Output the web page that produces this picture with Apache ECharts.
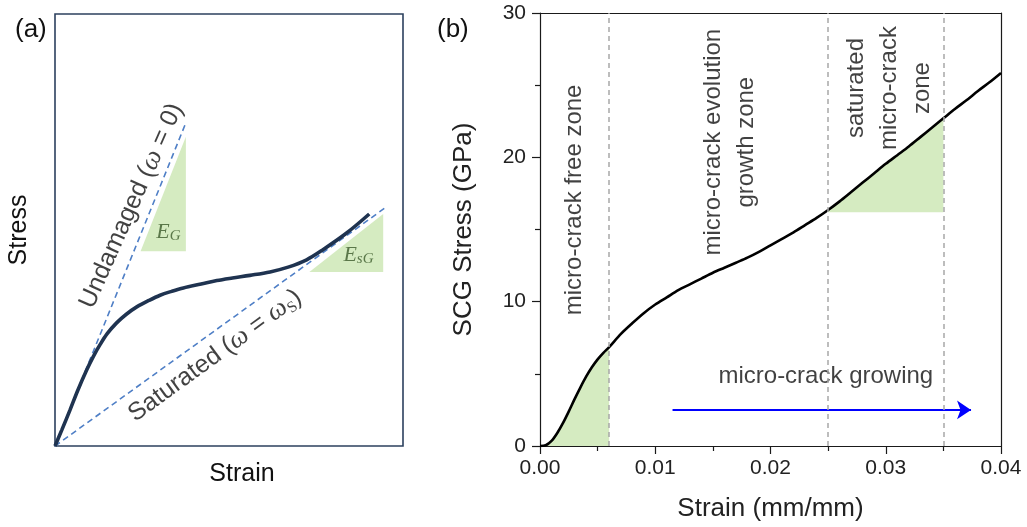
<!DOCTYPE html>
<html>
<head>
<meta charset="utf-8">
<script src="https://cdn.jsdelivr.net/npm/echarts@6/dist/echarts.min.js"></script>
<style>
  html, body { margin: 0; padding: 0; background: #ffffff; }
  #chart { width: 1027px; height: 527px; }
</style>
</head>
<body>
<div id="chart"></div>
<script>
// ---------- Panel (a): schematic response on normalised axes ----------
const schemStrain = [0, 0.02, 0.043, 0.065, 0.091, 0.11, 0.129, 0.15, 0.177, 0.205, 0.235, 0.27,
                     0.302, 0.335, 0.369, 0.42, 0.465, 0.51, 0.56, 0.618, 0.67, 0.723, 0.771, 0.838, 0.903];
const schemStress = [0, 0.038, 0.083, 0.128, 0.176, 0.207, 0.234, 0.260, 0.285, 0.305, 0.322, 0.337,
                     0.349, 0.358, 0.366, 0.375, 0.383, 0.389, 0.395, 0.403, 0.414, 0.431, 0.455, 0.493, 0.537];
const undamagedLine = [[0, 0], [0.376, 0.748]];
const saturatedLine = [[0, 0], [0.955, 0.555]];
// slope triangles: hypotenuse end points, filled down to a base level
const triEG = [[0.246, 0.451], [0.376, 0.716]];
const triEGBase = 0.451;
const triEsG = [[0.731, 0.403], [0.943, 0.537]];
const triEsGBase = 0.403;
const schemNotePos = { EG: [0.326, 0.496], EsG: [0.872, 0.442], undamaged: [0.220, 0.556], saturated: [0.460, 0.209] };

// ---------- Panel (b): SCG stress-strain curve ----------
const strain = [0, 0.0005, 0.001, 0.0015, 0.002, 0.0025, 0.003, 0.0035, 0.004, 0.0045, 0.005, 0.0055, 0.006,
                0.007, 0.008, 0.009, 0.010, 0.011, 0.012, 0.013, 0.014, 0.015, 0.016, 0.017, 0.018, 0.019,
                0.020, 0.021, 0.022, 0.023, 0.024, 0.025, 0.026, 0.027, 0.028, 0.029, 0.030, 0.031, 0.032,
                0.033, 0.034, 0.035, 0.036, 0.037, 0.038, 0.039, 0.040];
const stress = [0, 0.05, 0.35, 0.9, 1.6, 2.4, 3.25, 4.05, 4.8, 5.45, 6.0, 6.45, 6.85,
                7.75, 8.5, 9.2, 9.8, 10.3, 10.8, 11.2, 11.6, 12.0, 12.35, 12.7, 13.05, 13.45,
                13.9, 14.35, 14.8, 15.3, 15.8, 16.35, 16.95, 17.6, 18.25, 18.9, 19.55, 20.15, 20.75,
                21.4, 22.05, 22.7, 23.35, 23.95, 24.6, 25.2, 25.85];
const xTicks = [0, 0.01, 0.02, 0.03, 0.04];
const yTicks = [0, 10, 20, 30];
const zoneBounds = [0.006, 0.025, 0.035];
const saturatedBase = 16.2;
const zoneNames = ['micro-crack free zone', 'micro-crack evolution\ngrowth zone', 'saturated\nmicro-crack\nzone'];
const zoneNamePos = [[0.0030, 17.05], [0.0165, 21.05], [0.0303, 24.8]];
const growingText = 'micro-crack growing';
const growingTextPos = [0.0248, 4.83];
const arrowPath = [[0.0115, 2.5], [0.0374, 2.5]];

const SANS = '"Liberation Sans", Arial, sans-serif';
const SERIF = '"Liberation Serif", "DejaVu Serif", serif';
const GREEN = '#d5ebc1';
const AXIS_COLOR = '#1a1a1a';

const pairs = (xs, ys) => xs.map((x, i) => [x, ys[i]]);
const curveB = pairs(strain, stress);
const freeZoneFill = curveB.filter(p => p[0] <= zoneBounds[0] + 1e-9);
const satZoneFill = curveB.filter(p => p[0] >= zoneBounds[1] - 1e-9 && p[0] <= zoneBounds[2] + 1e-9);

const mathRich = {
  t: { fontFamily: SANS, fontSize: 25, color: '#111', lineHeight: 29 },
  w: { fontFamily: SERIF, fontStyle: 'italic', fontSize: 27, color: '#111', lineHeight: 29 },
  s: { fontFamily: SERIF, fontSize: 16, color: '#111', lineHeight: 14, verticalAlign: 'bottom' },
  e: { fontFamily: SERIF, fontStyle: 'italic', fontSize: 22, color: '#3b5a2a', lineHeight: 24 },
  es: { fontFamily: SERIF, fontStyle: 'italic', fontSize: 15, color: '#3b5a2a', lineHeight: 12, verticalAlign: 'bottom' }
};

const hiddenAxis = {
  type: 'value', min: 0, max: 1,
  axisLine: { show: false }, axisTick: { show: false }, axisLabel: { show: false }, splitLine: { show: false }
};
const frameAxis = {
  axisLine: { show: true, onZero: false, lineStyle: { color: AXIS_COLOR, width: 1.2 } },
  axisTick: { show: false }, axisLabel: { show: false }, splitLine: { show: false }
};

const chart = echarts.init(document.getElementById('chart'));
chart.setOption({
  animation: false,
  backgroundColor: '#ffffff',
  textStyle: { fontFamily: SANS },
  title: [
    { text: '(a)', left: 10, top: 12, textStyle: { fontFamily: SANS, fontSize: 26, fontWeight: 'normal', color: '#111' } },
    { text: '(b)', left: 432, top: 12, textStyle: { fontFamily: SANS, fontSize: 26, fontWeight: 'normal', color: '#111' } }
  ],
  grid: [
    { left: 55, top: 14, width: 348, height: 432, show: true, borderColor: '#2c405e', borderWidth: 1.6, containLabel: false },
    { left: 540, top: 13, width: 461, height: 433, show: false, containLabel: false }
  ],
  xAxis: [
    Object.assign({}, hiddenAxis, {
      gridIndex: 0, name: 'Strain', nameLocation: 'middle', nameGap: 16,
      nameTextStyle: { fontFamily: SANS, fontSize: 25, color: '#111', padding: [0, 0, 0, 26] }
    }),
    {
      type: 'value', gridIndex: 1, min: xTicks[0], max: xTicks[xTicks.length - 1], interval: xTicks[1] - xTicks[0],
      name: 'Strain (mm/mm)', nameLocation: 'middle', nameGap: 50,
      nameTextStyle: { fontFamily: SANS, fontSize: 26, color: '#222' },
      axisLine: { show: true, onZero: false, lineStyle: { color: AXIS_COLOR, width: 1.2 } },
      axisTick: { show: true, inside: false, length: 8, lineStyle: { color: AXIS_COLOR, width: 1.2 } },
      minorTick: { show: true, splitNumber: 2, length: 5, lineStyle: { color: AXIS_COLOR, width: 1.2 } },
      axisLabel: { fontSize: 21, color: '#222', margin: 12, formatter: v => v.toFixed(2) },
      splitLine: { show: false }
    },
    Object.assign({ type: 'value', gridIndex: 1, position: 'top', min: xTicks[0], max: xTicks[xTicks.length - 1] }, frameAxis)
  ],
  yAxis: [
    Object.assign({}, hiddenAxis, {
      gridIndex: 0, name: 'Stress', nameLocation: 'middle', nameGap: 23,
      nameTextStyle: { fontFamily: SANS, fontSize: 25, color: '#111' }
    }),
    {
      type: 'value', gridIndex: 1, min: yTicks[0], max: yTicks[yTicks.length - 1], interval: yTicks[1] - yTicks[0],
      name: 'SCG Stress (GPa)', nameLocation: 'middle', nameGap: 63,
      nameTextStyle: { fontFamily: SANS, fontSize: 26, color: '#222' },
      axisLine: { show: true, onZero: false, lineStyle: { color: AXIS_COLOR, width: 1.2 } },
      axisTick: { show: true, inside: false, length: 8, lineStyle: { color: AXIS_COLOR, width: 1.2 } },
      minorTick: { show: true, splitNumber: 2, length: 5, lineStyle: { color: AXIS_COLOR, width: 1.2 } },
      axisLabel: { fontSize: 21, color: '#222', margin: 14 },
      splitLine: { show: false }
    },
    Object.assign({ type: 'value', gridIndex: 1, position: 'right', min: yTicks[0], max: yTicks[yTicks.length - 1] }, frameAxis)
  ],
  series: [
    // ---- panel (a) ----
    {
      type: 'line', xAxisIndex: 0, yAxisIndex: 0, data: triEG, symbol: 'none', silent: true, z: 1,
      lineStyle: { width: 0 }, areaStyle: { color: GREEN, opacity: 1, origin: triEGBase }
    },
    {
      type: 'line', xAxisIndex: 0, yAxisIndex: 0, data: triEsG, symbol: 'none', silent: true, z: 1,
      lineStyle: { width: 0 }, areaStyle: { color: GREEN, opacity: 1, origin: triEsGBase }
    },
    {
      type: 'line', xAxisIndex: 0, yAxisIndex: 0, data: undamagedLine, symbol: 'none', silent: true, z: 2,
      lineStyle: { color: '#4f7fc6', width: 1.6, type: [6, 4] }
    },
    {
      type: 'line', xAxisIndex: 0, yAxisIndex: 0, data: saturatedLine, symbol: 'none', silent: true, z: 2,
      lineStyle: { color: '#4f7fc6', width: 1.6, type: [6, 4] }
    },
    {
      type: 'line', xAxisIndex: 0, yAxisIndex: 0, data: pairs(schemStrain, schemStress), symbol: 'none',
      smooth: 0.35, silent: true, z: 3,
      lineStyle: { color: '#1f3350', width: 3.6, cap: 'butt' }
    },
    {
      type: 'scatter', xAxisIndex: 0, yAxisIndex: 0, symbolSize: 0, silent: true, z: 4,
      itemStyle: { color: 'transparent' },
      label: { show: true, position: 'inside', align: 'center', verticalAlign: 'middle', rich: mathRich },
      data: [
        { value: schemNotePos.EG, label: { formatter: '{e|E}{es|G}' } },
        { value: schemNotePos.EsG, label: { formatter: '{e|E}{es|sG}' } },
        { value: schemNotePos.undamaged, label: { rotate: 66, formatter: '{t|Undamaged (}{w|ω}{t| = 0)}' } },
        { value: schemNotePos.saturated, label: { rotate: 36, formatter: '{t|Saturated (}{w|ω}{t| = }{w|ω}{s|S}{t|)}' } }
      ]
    },
    // ---- panel (b) ----
    {
      type: 'line', xAxisIndex: 1, yAxisIndex: 1, data: freeZoneFill, symbol: 'none', smooth: 0.3, silent: true, z: 1,
      lineStyle: { width: 0 }, areaStyle: { color: GREEN, opacity: 1 }
    },
    {
      type: 'line', xAxisIndex: 1, yAxisIndex: 1, data: satZoneFill, symbol: 'none', smooth: 0.3, silent: true, z: 1,
      lineStyle: { width: 0 }, areaStyle: { color: GREEN, opacity: 1, origin: saturatedBase }
    },
    {
      type: 'line', xAxisIndex: 1, yAxisIndex: 1, data: curveB, symbol: 'none', smooth: 0.3, silent: true, z: 3,
      lineStyle: { color: '#000', width: 2.6 },
      markLine: {
        silent: true, symbol: 'none', precision: 4, label: { show: false },
        lineStyle: { color: '#a8a8a8', width: 1.5, type: [5, 4] },
        data: zoneBounds.map(v => ({ xAxis: v }))
      }
    },
    {
      type: 'lines', coordinateSystem: 'cartesian2d', xAxisIndex: 1, yAxisIndex: 1, silent: true, z: 4,
      symbol: ['none', 'arrow'], symbolSize: 14,
      lineStyle: { color: '#0000ff', width: 2.2, opacity: 1 },
      data: [{ coords: arrowPath }]
    },
    {
      type: 'scatter', xAxisIndex: 1, yAxisIndex: 1, symbolSize: 0, silent: true, z: 4,
      itemStyle: { color: 'transparent' },
      label: {
        show: true, position: 'inside', align: 'center', verticalAlign: 'middle',
        fontFamily: SANS, fontSize: 24, lineHeight: 33, color: '#111'
      },
      data: zoneNamePos.map((p, i) => ({ value: p, label: { rotate: 90, formatter: zoneNames[i] } }))
        .concat([{ value: growingTextPos, label: { rotate: 0, formatter: growingText } }])
    }
  ]
});
</script>
</body>
</html>
